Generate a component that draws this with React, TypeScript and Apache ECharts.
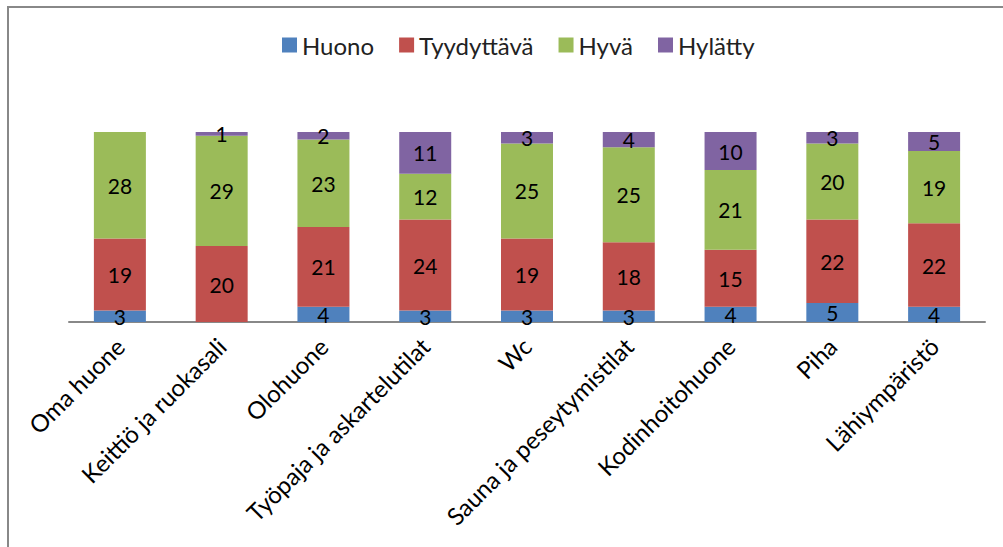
import React, { useEffect, useRef } from "react";
import * as echarts from "echarts";

const categories = [
  "Oma huone",
  "Keittiö ja ruokasali",
  "Olohuone",
  "Työpaja ja askartelutilat",
  "Wc",
  "Sauna ja peseytymistilat",
  "Kodinhoitohuone",
  "Piha",
  "Lähiympäristö",
];
const huono = [3, 0, 4, 3, 3, 3, 4, 5, 4];
const tyydyttava = [19, 20, 21, 24, 19, 18, 15, 22, 22];
const hyva = [28, 29, 23, 12, 25, 25, 21, 20, 19];
const hylatty = [0, 1, 2, 11, 3, 4, 10, 3, 5];

const seriesNames = ["Huono", "Tyydyttävä", "Hyvä", "Hylätty"];
const colors = ["#4F81BD", "#C0504D", "#9BBB59", "#8064A2"];
const FONT = "Lato";

export default function App() {
  const ref = useRef<HTMLDivElement>(null);
  useEffect(() => {
    document.body.style.margin = "0";
    if (!ref.current) return;
    const chart = echarts.init(ref.current, null, { renderer: "svg" });
    const data = [huono, tyydyttava, hyva, hylatty];
    chart.setOption({
      animation: false,
      backgroundColor: "#fff",
      color: colors,
      textStyle: { fontFamily: FONT },
      graphic: [
        {
          type: "rect",
          shape: { x: 8, y: 7, width: 1100, height: 700 },
          style: { fill: "none", stroke: "#888", lineWidth: 2 },
          silent: true,
        },
      ],
      legend: {
        top: 28,
        left: 277,
        itemWidth: 15,
        itemHeight: 15,
        itemGap: 25,
        icon: "rect",
        textStyle: { fontFamily: FONT, fontSize: 24, color: "#222" },
        data: seriesNames,
      },
      grid: { left: 69, right: 18, top: 132, bottom: 225, containLabel: false },
      xAxis: {
        type: "category",
        data: categories,
        axisLine: { show: true, lineStyle: { color: "#888", width: 2 } },
        axisTick: { show: false },
        axisLabel: {
          rotate: 45,
          interval: 0,
          margin: 20,
          fontFamily: FONT,
          fontSize: 24,
          color: "#000",
        },
      },
      yAxis: {
        type: "value",
        min: 0,
        max: 50,
        show: false,
        splitLine: { show: false },
      },
      series: seriesNames.map((name, i) => ({
        name,
        type: "bar",
        stack: "total",
        barWidth: 52,
        data: data[i],
        itemStyle: { color: colors[i] },
        label: {
          show: true,
          position: "inside",
          fontFamily: FONT,
          fontSize: 21,
          color: "#000",
          formatter: (p: any) => (p.value === 0 ? "" : String(p.value)),
        },
      })),
    });
    return () => chart.dispose();
  }, []);
  return <div ref={ref} style={{ width: 1003, height: 547 }} />;
}
